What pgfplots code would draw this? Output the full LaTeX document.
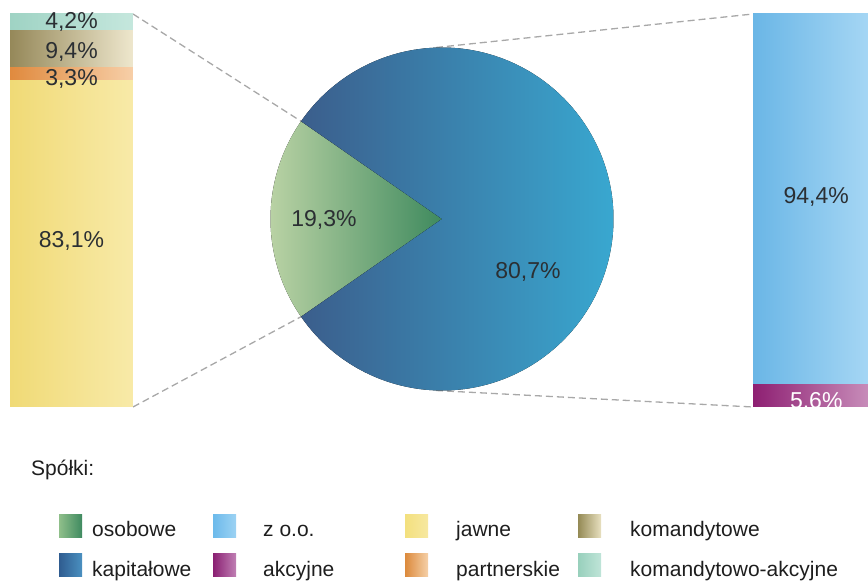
\documentclass[border=0pt]{standalone}
\usepackage{pgfplots}
\pgfplotsset{compat=1.18}
\usepackage{fontspec}
\setmainfont{Liberation Sans}
% pie
\definecolor{osL}{HTML}{C0D6A8}
\definecolor{osR}{HTML}{3F8A5E}
\definecolor{kaL}{HTML}{3B5E8C}
\definecolor{kaM}{HTML}{3F7EA3}
\definecolor{kaR}{HTML}{39ADD5}
% bars
\definecolor{zoL}{HTML}{6AB6E6}
\definecolor{zoR}{HTML}{A5D6F4}
\definecolor{akL}{HTML}{8E1F72}
\definecolor{akR}{HTML}{C78CB9}
\definecolor{jaL}{HTML}{F0DA76}
\definecolor{jaR}{HTML}{F8EAA8}
\definecolor{paL}{HTML}{E08A3E}
\definecolor{paR}{HTML}{F7CFA8}
\definecolor{koL}{HTML}{958859}
\definecolor{koR}{HTML}{EEE7CD}
\definecolor{kkL}{HTML}{9FD3C4}
\definecolor{kkR}{HTML}{C5E7DD}
% legend swatches
\definecolor{lgosL}{HTML}{8FBF8A}
\definecolor{lgosR}{HTML}{3F8A60}
\definecolor{lgkaL}{HTML}{2F5C90}
\definecolor{lgkaR}{HTML}{4A90C0}
\definecolor{lgzoL}{HTML}{6CBAEB}
\definecolor{lgzoR}{HTML}{9CD2F3}
\definecolor{lgakL}{HTML}{8A1F72}
\definecolor{lgakR}{HTML}{C080B4}
\definecolor{lgjaL}{HTML}{F3E07E}
\definecolor{lgjaR}{HTML}{F7E8A0}
\definecolor{lgpaL}{HTML}{DC8A3C}
\definecolor{lgpaR}{HTML}{F5D0A8}
\definecolor{lgkoL}{HTML}{948A55}
\definecolor{lgkoR}{HTML}{E8E0C0}
\definecolor{lgkkL}{HTML}{98D0BC}
\definecolor{lgkkR}{HTML}{BFE4D8}
\definecolor{dashgray}{HTML}{A8A8A8}
\definecolor{txt}{HTML}{2B2F33}
\definecolor{lgtxt}{HTML}{1E1E1E}
\newcommand\pctfont{\fontsize{23bp}{27bp}\selectfont}
\newcommand\lgfont{\fontsize{21bp}{25bp}\selectfont}
\pgfplotsset{
  leftbar/.style={at={(10bp,174bp)}, anchor=south west, width=123bp, height=393bp,
    scale only axis, xmin=-0.5, xmax=0.5, ymin=0, ymax=100, hide axis, clip=false},
  rightbar/.style={at={(753bp,174bp)}, anchor=south west, width=115bp, height=393bp,
    scale only axis, xmin=-0.5, xmax=0.5, ymin=0, ymax=100, hide axis},
}
\begin{document}
\begin{tikzpicture}
\useasboundingbox (0,0) rectangle (868bp,581bp);
% ---------------- main axis: pie, connectors, legend
\begin{axis}[at={(0,0)}, anchor=south west, x=1bp, y=1bp,
  xmin=0, xmax=868, ymin=0, ymax=581, hide axis, clip=false]
% connectors
\addplot[dashgray, line width=1.3bp, dash pattern=on 7bp off 4bp] coordinates {(133,567) (301.1,459.7)};
\addplot[dashgray, line width=1.3bp, dash pattern=on 7bp off 4bp] coordinates {(133,174) (301.1,264.3)};
\addplot[dashgray, line width=1.3bp, dash pattern=on 7bp off 4bp] coordinates {(436,533.5) (753,567)};
\addplot[dashgray, line width=1.3bp, dash pattern=on 7bp off 4bp] coordinates {(436,190.5) (753,174)};
% pie: osobowe 19.3, kapitalowe 80.7
\pgfmathsetmacro{\half}{19.3*3.6/2}
\pgfmathsetmacro{\sa}{180-\half}
\pgfmathsetmacro{\ea}{180+\half}
\pgfmathsetmacro{\eb}{540-\half}
\fill[left color=osL, right color=osR] (axis cs:442,362) -- ++(\sa:171.5bp)
  arc[start angle=\sa, end angle=\ea, radius=171.5bp] -- cycle;
\fill[left color=kaL, middle color=kaM, right color=kaR] (axis cs:442,362) -- ++(\ea:171.5bp)
  arc[start angle=\ea, end angle=\eb, radius=171.5bp] -- cycle;
\node[anchor=base, text=txt, font=\pctfont, inner sep=0] at (axis cs:324,355) {19,3\%};
\node[anchor=base, text=txt, font=\pctfont, inner sep=0] at (axis cs:528,303) {80,7\%};
% legend
\node[anchor=base west, text=lgtxt, font=\lgfont, inner sep=0] at (axis cs:31,106) {Spółki:};
\fill[left color=lgosL, right color=lgosR] (axis cs:59,43) rectangle (axis cs:82,66);
\fill[left color=lgkaL, right color=lgkaR] (axis cs:59,4) rectangle (axis cs:82,27);
\fill[left color=lgzoL, right color=lgzoR] (axis cs:213,43) rectangle (axis cs:236,66);
\fill[left color=lgakL, right color=lgakR] (axis cs:213,4) rectangle (axis cs:236,27);
\fill[left color=lgjaL, right color=lgjaR] (axis cs:405,43) rectangle (axis cs:428,66);
\fill[left color=lgpaL, right color=lgpaR] (axis cs:405,4) rectangle (axis cs:428,27);
\fill[left color=lgkoL, right color=lgkoR] (axis cs:578,43) rectangle (axis cs:601,66);
\fill[left color=lgkkL, right color=lgkkR] (axis cs:578,4) rectangle (axis cs:601,27);
\node[anchor=base west, text=lgtxt, font=\lgfont, inner sep=0] at (axis cs:92,45) {osobowe};
\node[anchor=base west, text=lgtxt, font=\lgfont, inner sep=0] at (axis cs:92,5) {kapitałowe};
\node[anchor=base west, text=lgtxt, font=\lgfont, inner sep=0] at (axis cs:263,45) {z o.o.};
\node[anchor=base west, text=lgtxt, font=\lgfont, inner sep=0] at (axis cs:263,5) {akcyjne};
\node[anchor=base west, text=lgtxt, font=\lgfont, inner sep=0] at (axis cs:456,45) {jawne};
\node[anchor=base west, text=lgtxt, font=\lgfont, inner sep=0] at (axis cs:456,5) {partnerskie};
\node[anchor=base west, text=lgtxt, font=\lgfont, inner sep=0] at (axis cs:630,45) {komandytowe};
\node[anchor=base west, text=lgtxt, font=\lgfont, inner sep=0] at (axis cs:630,5) {komandytowo-akcyjne};
\end{axis}
% ---------------- left bar: osobowe breakdown
\begin{axis}[leftbar, ybar stacked, bar width=1]
\addplot[draw=none, left color=jaL, right color=jaR] coordinates {(0,83.1)};
\addplot[draw=none, left color=paL, right color=paR] coordinates {(0,3.3)};
\addplot[draw=none, left color=koL, right color=koR] coordinates {(0,9.4)};
\addplot[draw=none, left color=kkL, right color=kkR] coordinates {(0,4.2)};
\end{axis}
\begin{axis}[leftbar]
\node[anchor=base, text=txt, font=\pctfont, inner sep=0] at (axis cs:0,40.5) {83,1\%};
\node[anchor=base, text=txt, font=\pctfont, inner sep=0] at (axis cs:0,81.7) {3,3\%};
\node[anchor=base, text=txt, font=\pctfont, inner sep=0] at (axis cs:0,88.8) {9,4\%};
\node[anchor=base, text=txt, font=\pctfont, inner sep=0] at (axis cs:0,96.2) {4,2\%};
\end{axis}
% ---------------- right bar: kapitalowe breakdown
\begin{axis}[rightbar, ybar stacked, bar width=1]
\addplot[draw=none, left color=akL, right color=akR] coordinates {(0,5.6)};
\addplot[draw=none, left color=zoL, right color=zoR] coordinates {(0,94.4)};
\end{axis}
\begin{axis}[rightbar, clip=true]
\node[anchor=base, text=txt, font=\pctfont, inner sep=0] at (axis cs:0.05,51.7) {94,4\%};
\node[anchor=base, text=white, font=\pctfont, inner sep=0] at (axis cs:0.05,-0.4) {5,6\%};
\end{axis}
\end{tikzpicture}
\end{document}
